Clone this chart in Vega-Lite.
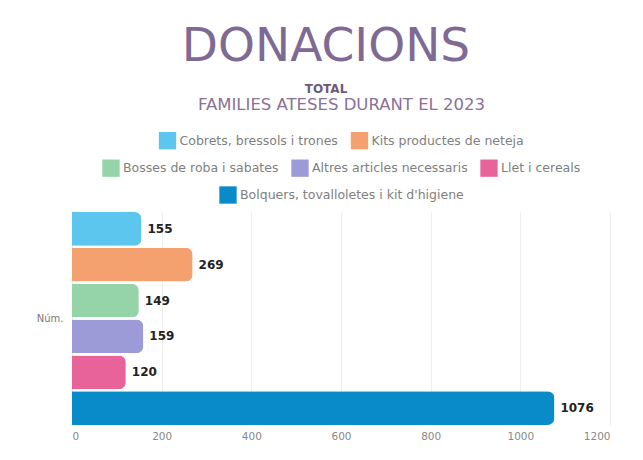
{
  "$schema": "https://vega.github.io/schema/vega-lite/v6.json",
  "width": 538,
  "height": 213,
  "autosize": {"type": "none"},
  "padding": {"left": 72, "top": 212, "right": 33, "bottom": 35},
  "background": "white",
  "title": {
    "text": "DONACIONS",
    "subtitle": "TOTAL",
    "anchor": "middle",
    "dx": -15,
    "font": "DejaVu Sans",
    "fontSize": 47,
    "fontWeight": "normal",
    "color": "#7f6a93",
    "subtitleFont": "DejaVu Sans",
    "subtitleFontSize": 12,
    "subtitleFontWeight": "bold",
    "subtitleColor": "#6e5a78",
    "subtitlePadding": 13,
    "offset": 1
  },
  "data": {
    "values": [
      {"grup": "Núm.", "cat": "Cobrets, bressols i trones", "valor": 155, "llegenda": 1},
      {"grup": "Núm.", "cat": "Kits productes de neteja", "valor": 269, "llegenda": 1},
      {"grup": "Núm.", "cat": "Bosses de roba i sabates", "valor": 149, "llegenda": 2},
      {"grup": "Núm.", "cat": "Altres articles necessaris", "valor": 159, "llegenda": 2},
      {"grup": "Núm.", "cat": "Llet i cereals", "valor": 120, "llegenda": 2},
      {"grup": "Núm.", "cat": "Bolquers, tovalloletes i kit d'higiene", "valor": 1076, "llegenda": 3}
    ]
  },
  "encoding": {
    "y": {"field": "grup", "type": "nominal", "scale": {"paddingInner": 0, "paddingOuter": 0},
      "axis": {"title": null, "domain": false, "ticks": false, "labelFontSize": 10, "labelColor": "#777", "labelFont": "DejaVu Sans", "labelPadding": 9}},
    "yOffset": {"field": "cat", "type": "nominal",
      "sort": ["Cobrets, bressols i trones", "Kits productes de neteja", "Bosses de roba i sabates", "Altres articles necessaris", "Llet i cereals", "Bolquers, tovalloletes i kit d'higiene"],
      "scale": {"paddingInner": 0.06, "paddingOuter": 0}},
    "x": {"field": "valor", "type": "quantitative", "scale": {"domain": [0, 1200]},
      "axis": {"title": null, "values": [0, 200, 400, 600, 800, 1000, 1200], "format": "d", "grid": true, "gridColor": "#eeeeee", "domain": false, "ticks": false, "labelFontSize": 10.5, "labelColor": "#888", "labelFont": "DejaVu Sans", "labelPadding": 6}}
  },
  "layer": [
    {
      "transform": [{"filter": "datum.llegenda == 1"}],
      "mark": {"type": "bar", "cornerRadiusEnd": 7},
      "encoding": {
        "color": {"field": "cat", "type": "nominal",
          "scale": {"domain": ["Cobrets, bressols i trones", "Kits productes de neteja"], "range": ["#5cc6ef", "#f4a16f"]},
          "legend": {"title": "FAMILIES ATESES DURANT EL 2023", "orient": "top", "direction": "horizontal"}}
      }
    },
    {
      "transform": [{"filter": "datum.llegenda == 2"}],
      "mark": {"type": "bar", "cornerRadiusEnd": 7},
      "encoding": {
        "color": {"field": "cat", "type": "nominal",
          "scale": {"domain": ["Bosses de roba i sabates", "Altres articles necessaris", "Llet i cereals"], "range": ["#95d4a9", "#9c9bd8", "#e9639b"]},
          "legend": {"title": null, "orient": "top", "direction": "horizontal"}}
      }
    },
    {
      "transform": [{"filter": "datum.llegenda == 3"}],
      "mark": {"type": "bar", "cornerRadiusEnd": 7},
      "encoding": {
        "color": {"field": "cat", "type": "nominal",
          "scale": {"domain": ["Bolquers, tovalloletes i kit d'higiene"], "range": ["#0a8bc9"]},
          "legend": {"title": null, "orient": "top", "direction": "horizontal"}}
      }
    },
    {
      "mark": {"type": "text", "align": "left", "dx": 6, "font": "DejaVu Sans", "fontSize": 12, "fontWeight": "bold", "color": "#222"},
      "encoding": {"text": {"field": "valor", "type": "quantitative"}}
    }
  ],
  "resolve": {"scale": {"color": "independent"}, "legend": {"color": "independent"}},
  "config": {
    "view": {"stroke": null},
    "legend": {
      "symbolType": "square",
      "symbolSize": 300,
      "symbolStrokeWidth": 0,
      "labelFont": "DejaVu Sans",
      "labelFontSize": 12.5,
      "labelColor": "#808080",
      "labelLimit": 400,
      "titleLimit": 600,
      "titleFont": "DejaVu Sans",
      "titleFontSize": 16.5,
      "titleFontWeight": "normal",
      "titleColor": "#8c7096",
      "titleAnchor": "middle",
      "titlePadding": 18,
      "columnPadding": 12,
      "labelOffset": 3,
      "offset": 8,
      "layout": {"top": {"anchor": "middle", "direction": "vertical", "center": true, "margin": 9}}
    }
  }
}
